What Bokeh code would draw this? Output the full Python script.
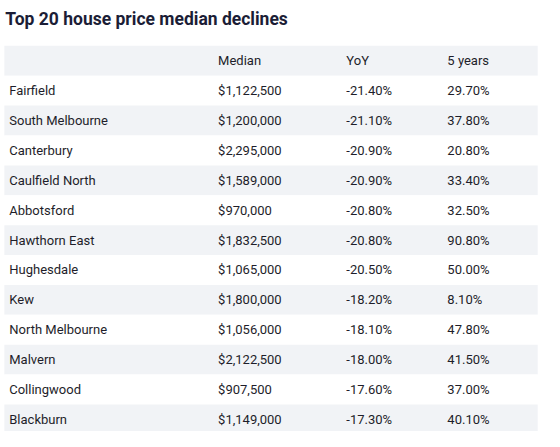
from bokeh.plotting import figure
from bokeh.models import ColumnDataSource, Range1d
from bokeh.core.properties import value
from bokeh.embed import file_html
from bokeh.resources import INLINE

title = "Top 20 house price median declines"
headers = ["", "Median", "YoY", "5 years"]
suburbs = ["Fairfield", "South Melbourne", "Canterbury", "Caulfield North", "Abbotsford",
           "Hawthorn East", "Hughesdale", "Kew", "North Melbourne", "Malvern",
           "Collingwood", "Blackburn"]
median = [1122500, 1200000, 2295000, 1589000, 970000, 1832500, 1065000, 1800000,
          1056000, 2122500, 907500, 1149000]
yoy = [-21.4, -21.1, -20.9, -20.9, -20.8, -20.8, -20.5, -18.2, -18.1, -18.0, -17.6, -17.3]
five_years = [29.7, 37.8, 20.8, 33.4, 32.5, 90.8, 50.0, 8.1, 47.8, 41.5, 37.0, 40.1]

# layout (coordinates in reference-image pixels)
ROW_H = 31
TABLE_TOP = 47
TABLE_L, TABLE_R = 4, 553
COL_X = [9, 224, 356, 460]
FONT = "Roboto"
TXT = "#1e1e2a"

p = figure(width=544, height=431, output_backend="svg", toolbar_location=None,
           x_range=Range1d(0, 560), y_range=Range1d(447, 0))
p.axis.visible = False
p.grid.visible = False
p.outline_line_color = None
p.min_border = 0
p.background_fill_color = "white"
p.border_fill_color = "white"

n_rows = len(suburbs) + 1
tops = [TABLE_TOP + ROW_H * i for i in range(n_rows)]
bottoms = [t + ROW_H for t in tops]
fills = ["#f1f3f6" if i % 2 == 0 else "#ffffff" for i in range(n_rows)]
p.quad(left=[TABLE_L] * n_rows, right=[TABLE_R] * n_rows, top=tops, bottom=bottoms,
       fill_color=fills, line_color=None)

centers = [t + ROW_H / 2 for t in tops]

# header
p.text(x=COL_X, y=[centers[0]] * 4, text=headers, text_font=value(FONT),
       text_font_size="13px", text_color=TXT, text_baseline="middle", text_align="left")

cells_x, cells_y, cells_t = [], [], []
for i, name in enumerate(suburbs):
    cy = centers[i + 1]
    vals = [name, "${:,}".format(median[i]), "{:.2f}%".format(yoy[i]),
            "{:.2f}%".format(five_years[i])]
    for cx, v in zip(COL_X, vals):
        cells_x.append(cx)
        cells_y.append(cy)
        cells_t.append(v)

src = ColumnDataSource(dict(x=cells_x, y=cells_y, t=cells_t))
p.text(x="x", y="y", text="t", source=src, text_font=value(FONT),
       text_font_size="13px", text_color=TXT, text_baseline="middle", text_align="left")

p.text(x=[5], y=[19], text=[title], text_font=value(FONT), text_font_size="17.5px",
       text_font_style="bold", text_color="#1b1d36", text_baseline="middle",
       text_align="left")

open("out.html", "w").write(file_html(p, INLINE))
